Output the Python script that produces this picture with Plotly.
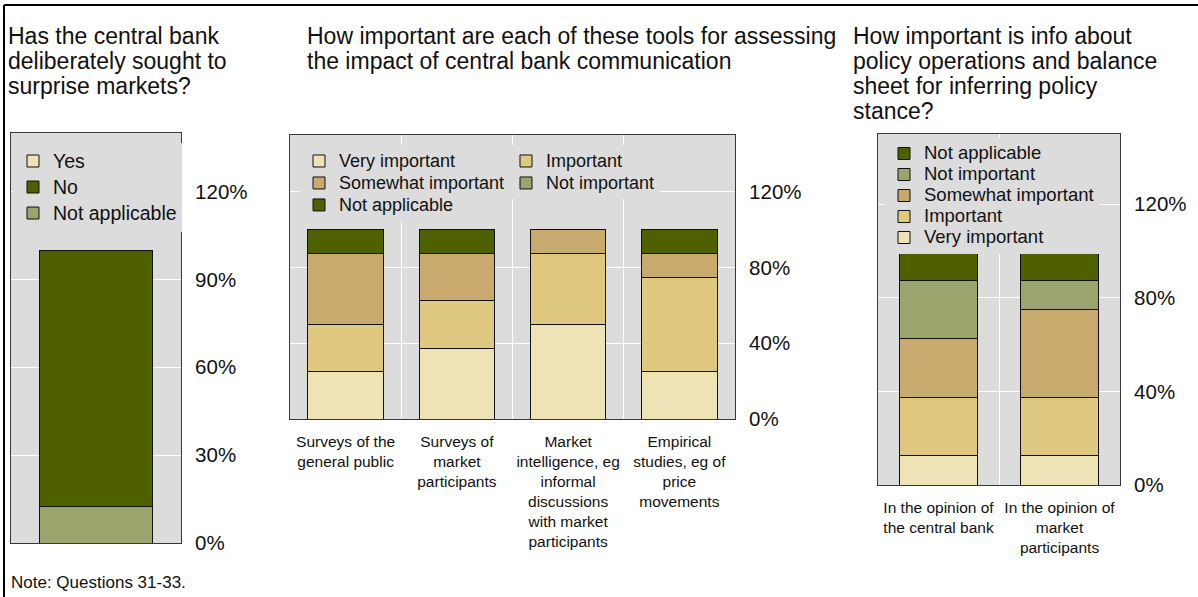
import plotly.graph_objects as go

W, H = 1198, 597
FONT = "Liberation Sans, Arial, sans-serif"

# ---------------- data ----------------
# Panel 1: Has the central bank deliberately sought to surprise markets?
p1_categories = ["Central banks"]
p1_yes = [0.0]
p1_no = [87.5]
p1_na = [12.5]

# Panel 2: importance of tools for assessing impact of communication
p2_categories = [
    "Surveys of the<br>general public",
    "Surveys of<br>market<br>participants",
    "Market<br>intelligence, eg<br>informal<br>discussions<br>with market<br>participants",
    "Empirical<br>studies, eg of<br>price<br>movements",
]
p2_very = [25.0, 37.5, 50.0, 25.0]
p2_important = [25.0, 25.0, 37.5, 50.0]
p2_somewhat = [37.5, 25.0, 12.5, 12.5]
p2_not = [0.0, 0.0, 0.0, 0.0]
p2_na = [12.5, 12.5, 0.0, 12.5]

# Panel 3: info about policy operations and balance sheet
p3_categories = [
    "In the opinion of<br>the central bank",
    "In the opinion of<br>market<br>participants",
]
p3_very = [12.5, 12.5]
p3_important = [25.0, 25.0]
p3_somewhat = [25.0, 37.5]
p3_not = [25.0, 12.5]
p3_na = [12.5, 12.5]

p1_tickvals = [0, 30, 60, 90, 120]
p1_ticktext = ["0%", "30%", "60%", "90%", "120%"]
p23_tickvals = [0, 40, 80, 120]
p23_ticktext = ["0%", "40%", "80%", "120%"]

titles = [
    "Has the central bank<br>deliberately sought to<br>surprise markets?",
    "How important are each of these tools for assessing<br>the impact of central bank communication",
    "How important is info about<br>policy operations and balance<br>sheet for inferring policy<br>stance?",
]
note = "Note: Questions 31-33."

# ---------------- styles ----------------
C_VERY = "#EEE3B5"
C_IMP = "#DFC880"
C_SOME = "#C8AA6E"
C_NOT = "#9AA46C"
C_NA = "#4E6000"
PLOT_BG = "#DCDCDC"
LINE = dict(color="#111111", width=1)
TXT = "#111111"


def px_x(v):
    return v / W


def px_y(v):
    return 1 - v / H


def lbl(text, size):
    return f'<span style="font-size:{size}px">{text}</span>'


fig = go.Figure()

# Panel 1 (stack: Not applicable at bottom, No above)
L1 = 19.5
fig.add_trace(go.Bar(x=p1_categories, y=p1_yes, name=lbl("Yes", L1), marker=dict(color=C_VERY, line=LINE),
                     width=0.66, xaxis="x", yaxis="y", legend="legend", legendrank=1))
fig.add_trace(go.Bar(x=p1_categories, y=p1_na, name=lbl("Not applicable", L1), marker=dict(color=C_NOT, line=LINE),
                     width=0.66, xaxis="x", yaxis="y", legend="legend", legendrank=3))
fig.add_trace(go.Bar(x=p1_categories, y=p1_no, name=lbl("No", L1), marker=dict(color=C_NA, line=LINE),
                     width=0.66, xaxis="x", yaxis="y", legend="legend", legendrank=2))

# Panel 2
L2 = 18
p2_series = [
    ("Very important", p2_very, C_VERY, "legend2"),
    ("Important", p2_important, C_IMP, "legend3"),
    ("Somewhat important", p2_somewhat, C_SOME, "legend2"),
    ("Not important", p2_not, C_NOT, "legend3"),
    ("Not applicable", p2_na, C_NA, "legend2"),
]
for name, vals, col, leg in p2_series:
    fig.add_trace(go.Bar(x=p2_categories, y=vals, name=lbl(name, L2), marker=dict(color=col, line=LINE),
                         width=0.68, xaxis="x2", yaxis="y2", legend=leg))

# Panel 3
L3 = 18.5
p3_series = [
    ("Very important", p3_very, C_VERY),
    ("Important", p3_important, C_IMP),
    ("Somewhat important", p3_somewhat, C_SOME),
    ("Not important", p3_not, C_NOT),
    ("Not applicable", p3_na, C_NA),
]
for name, vals, col in p3_series:
    fig.add_trace(go.Bar(x=p3_categories, y=vals, name=lbl(name, L3), marker=dict(color=col, line=LINE),
                         width=0.645, xaxis="x3", yaxis="y3", legend="legend4"))

# ---------------- axes ----------------
panels = {
    # left, right, top, bottom (px)
    1: (11, 181, 133, 543),
    2: (290, 735, 135, 419),
    3: (878, 1120, 134, 485),
}

xcommon = dict(type="category", tickson="boundaries", showgrid=True, gridcolor="white", gridwidth=1,
               showline=True, mirror=True, linecolor="#383838", linewidth=1, ticks="", tickangle=0,
               tickfont=dict(family=FONT, size=15.5, color=TXT), ticklabelstandoff=8,
               automargin=False, fixedrange=True)
ycommon = dict(side="right", showgrid=True, gridcolor="white", gridwidth=1, zeroline=False,
               showline=True, mirror=True, linecolor="#383838", linewidth=1, ticks="",
               tickmode="array", tickfont=dict(family=FONT, size=20.5, color=TXT),
               ticklabelstandoff=9, automargin=False, fixedrange=True)

layout_axes = {}
for i, (l, r, t, b) in panels.items():
    xa = "xaxis" if i == 1 else f"xaxis{i}"
    ya = "yaxis" if i == 1 else f"yaxis{i}"
    xid = "x" if i == 1 else f"x{i}"
    yid = "y" if i == 1 else f"y{i}"
    layout_axes[xa] = dict(xcommon, domain=[px_x(l), px_x(r)], anchor=yid)
    if i == 1:
        layout_axes[ya] = dict(ycommon, domain=[px_y(b), px_y(t)], anchor=xid, range=[0, 140],
                               tickvals=p1_tickvals, ticktext=p1_ticktext)
        layout_axes[xa]["showticklabels"] = False
    else:
        layout_axes[ya] = dict(ycommon, domain=[px_y(b), px_y(t)], anchor=xid, range=[0, 150],
                               tickvals=p23_tickvals, ticktext=p23_ticktext)

legend_common = dict(xanchor="left", yanchor="top", bgcolor=PLOT_BG, borderwidth=0,
                     itemclick=False, itemdoubleclick=False)

fig.update_layout(
    **layout_axes,
    barmode="stack",
    width=W, height=H,
    margin=dict(l=0, r=0, t=0, b=0, autoexpand=False),
    paper_bgcolor="white",
    plot_bgcolor=PLOT_BG,
    font=dict(family=FONT, color=TXT),
    showlegend=True,
    legend=dict(legend_common, x=px_x(13), y=px_y(143), traceorder="normal",
                font=dict(family=FONT, size=17.7, color=TXT)),
    legend2=dict(legend_common, x=px_x(299), y=px_y(145), traceorder="normal",
                 font=dict(family=FONT, size=14.6, color=TXT)),
    legend3=dict(legend_common, x=px_x(506), y=px_y(145), traceorder="normal",
                 font=dict(family=FONT, size=14.6, color=TXT)),
    legend4=dict(legend_common, x=px_x(884), y=px_y(138), traceorder="reversed",
                 font=dict(family=FONT, size=13.85, color=TXT)),
)

# ---------------- titles and note ----------------
title_pos = [6, 305, 851]
for t, x in zip(titles, title_pos):
    fig.add_annotation(text=lbl(t, 23), xref="paper", yref="paper", x=px_x(x), y=px_y(21),
                       xanchor="left", yanchor="top", align="left", showarrow=False,
                       font=dict(family=FONT, size=19.2, color=TXT))

fig.add_annotation(text=note, xref="paper", yref="paper", x=px_x(9), y=px_y(582),
                   xanchor="left", yanchor="middle", align="left", showarrow=False,
                   font=dict(family=FONT, size=17, color=TXT))

# page frame (top and left rules)
fig.add_shape(type="line", xref="paper", yref="paper", x0=px_x(4), x1=1, y0=px_y(5), y1=px_y(5),
              line=dict(color="black", width=2))
fig.add_shape(type="line", xref="paper", yref="paper", x0=px_x(4), x1=px_x(4), y0=px_y(5), y1=0,
              line=dict(color="black", width=2))

fig.write_html("out.html", config={"displayModeBar": False},
               post_script="document.body.style.margin='0px';")
